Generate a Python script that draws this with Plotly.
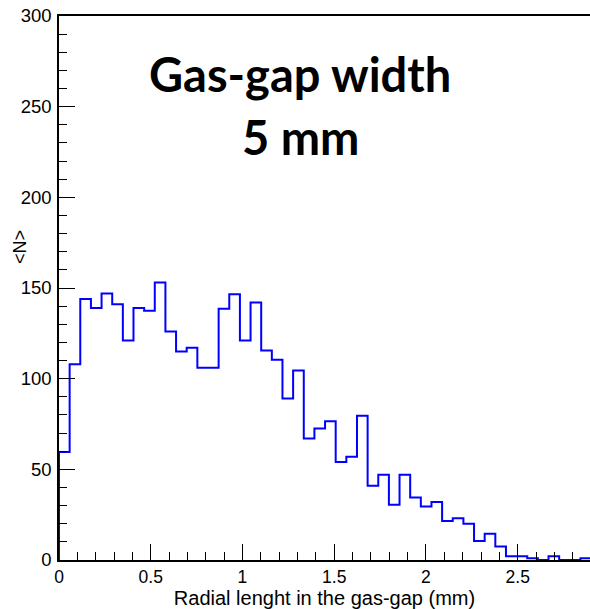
import numpy as np
import plotly.graph_objects as go

# Mean number of entries per radial-length bin, 50 bins over 0-2.9 mm
x_min, x_max, n_bins = 0.0, 2.9, 50
mean_n = [59.5, 108, 144, 139, 147, 141, 121, 139, 137.5, 153,
          126, 115, 117, 106, 106, 138.5, 146.5, 121, 142, 115.5,
          110.5, 89, 104.5, 67, 72.5, 76.5, 54, 57, 79.5, 41,
          47, 30.5, 47, 34.5, 29.5, 32, 21.5, 23, 20, 10.5,
          14.5, 7.5, 2, 2, 1, 0, 2, 0, 0, 1]

title_lines = ["Gas-gap width", "5 mm"]
x_title = "Radial lenght in the gas-gap (mm)"
y_title = "&lt;N&gt;"

edges = np.linspace(x_min, x_max, n_bins + 1)
# step outline: start on the baseline, then one horizontal run per bin
xs = np.concatenate([[edges[0]], edges])
ys = np.concatenate([[0], mean_n, [mean_n[-1]]])

fig = go.Figure()
fig.add_trace(go.Scatter(
    x=xs, y=ys, mode="lines", line_shape="hv",
    line=dict(color="#0000ff", width=2), hoverinfo="skip", showlegend=False,
))

axis_font = dict(family="Liberation Sans, Arial, sans-serif", color="black")

fig.update_layout(
    width=590, height=609,
    margin=dict(l=59, r=0, t=16, b=49),
    plot_bgcolor="white", paper_bgcolor="white",
    xaxis=dict(
        range=[0, 2.894], showgrid=False, zeroline=False,
        showline=True, linecolor="black", linewidth=1.5, mirror=True,
        ticks="inside", ticklen=16, tickcolor="black", tickwidth=1.2,
        tick0=0, dtick=0.5,
        minor=dict(ticks="inside", ticklen=8, dtick=0.1, tickcolor="black", tickwidth=1.2),
        tickfont=dict(size=17.5, **axis_font),
        title=dict(text=x_title, font=dict(size=20, **axis_font), standoff=3),
        ticklabelstandoff=0,
    ),
    yaxis=dict(
        range=[0, 300], showgrid=False, zeroline=False,
        showline=True, linecolor="black", linewidth=1.5,
        ticks="inside", ticklen=16, tickcolor="black", tickwidth=1.2,
        tick0=0, dtick=50,
        minor=dict(ticks="inside", ticklen=8, dtick=10, tickcolor="black", tickwidth=1.2),
        tickfont=dict(size=18.5, **axis_font),
        ticklabelstandoff=2,
    ),
)

# y-axis title sits inside the tick-label column, between the 150 and 200 labels
fig.add_annotation(
    text=y_title, xref="paper", yref="paper",
    x=(20 - 59) / 531, y=(560 - 247) / 544, xanchor="center", yanchor="middle",
    textangle=-90, showarrow=False, font=dict(size=18, **axis_font),
)

title_font = dict(family="Lato, Open Sans, sans-serif", size=47, color="black", weight="bold")
for text, ypos in zip(title_lines, [0.893, 0.777]):
    fig.add_annotation(
        text=f"<b>{text}</b>", xref="paper", yref="paper",
        x=(300 - 59) / 531, y=ypos, xanchor="center", yanchor="middle",
        showarrow=False, font=title_font,
    )

fig.write_html("out.html")
